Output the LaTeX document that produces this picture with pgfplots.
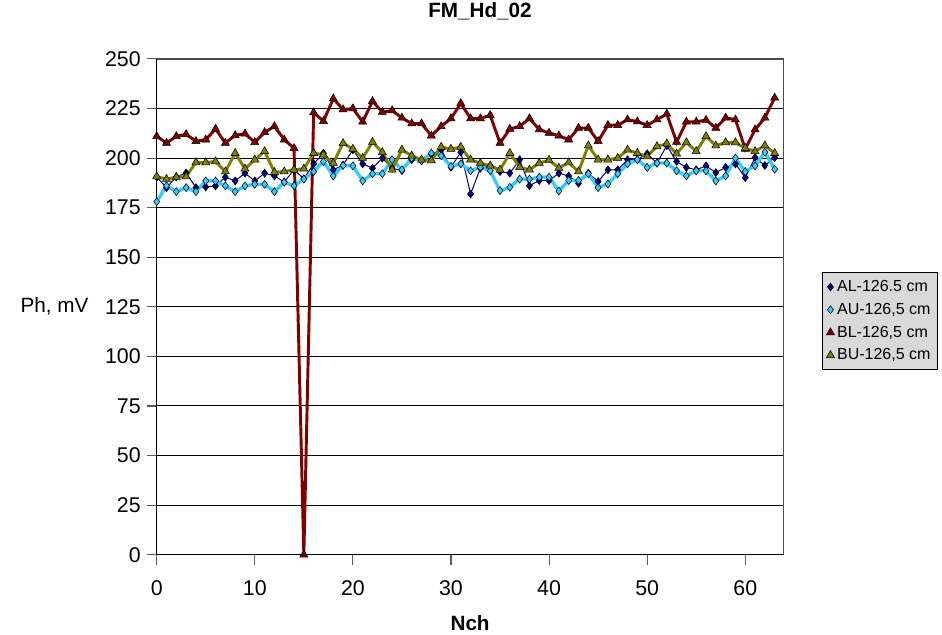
\documentclass[border=0pt]{standalone}
\usepackage{fontspec}
\setmainfont{Liberation Sans}
\usepackage{pgfplots}
\usepackage{pgfplotstable}
\pgfplotsset{compat=1.18}
\definecolor{cAL}{RGB}{0,0,128}
\definecolor{cAU}{RGB}{51,204,255}
\definecolor{cBL}{RGB}{128,0,0}
\definecolor{cBU}{RGB}{128,128,0}
\definecolor{legbg}{RGB}{217,217,217}
\pgfplotstableread{
x AL AU BL BU
0 190.4 178.0 211.0 190.7
1 185.1 186.1 207.6 189.4
2 190.5 183.1 211.0 190.4
3 192.5 185.1 212.0 190.7
4 185.1 183.1 208.5 197.8
5 185.5 188.5 209.3 197.8
6 186.0 188.5 214.7 198.3
7 190.4 186.0 207.6 193.2
8 188.5 183.1 211.5 202.5
9 192.4 186.0 212.3 194.6
10 188.5 186.8 208.0 199.2
11 192.4 186.8 213.0 203.4
12 191.0 183.1 216.0 192.9
13 188.0 187.8 209.3 193.2
14 194.1 186.0 205.0 194.1
15 189.6 189.4 0 194.6
16 197.1 193.2 223.0 202.5
17 202.5 198.3 218.6 201.7
18 194.1 191.0 230.0 197.5
19 196.5 196.3 224.5 207.5
20 204.2 196.1 225.0 204.6
21 197.1 188.5 218.3 200.0
22 194.9 192.1 228.7 208.1
23 200.0 192.1 223.2 202.9
24 194.9 199.2 224.0 194.1
25 193.7 194.1 220.3 204.2
26 199.2 200.0 217.4 201.2
27 198.6 198.8 217.4 199.2
28 202.0 202.5 211.3 198.8
29 204.2 201.2 216.0 205.6
30 195.4 195.8 220.0 204.6
31 203.0 197.1 227.6 205.6
32 181.9 193.6 220.0 199.2
33 194.9 195.4 220.0 197.5
34 196.1 193.6 221.6 196.1
35 193.2 183.6 207.6 194.1
36 192.4 185.3 214.7 202.5
37 199.2 189.4 216.0 195.4
38 186.1 189.4 220.0 194.1
39 188.7 190.4 214.4 197.5
40 188.7 190.4 212.7 199.0
41 192.4 183.4 211.3 195.0
42 191.0 188.7 209.3 197.8
43 187.3 188.7 215.2 193.2
44 192.4 192.1 215.2 206.3
45 188.2 185.1 208.5 199.2
46 194.1 187.0 216.6 199.2
47 194.1 192.1 216.6 200.0
48 199.2 197.1 219.4 204.2
49 199.2 199.2 218.4 202.5
50 202.2 195.3 216.6 200.8
51 197.5 197.5 219.4 205.9
52 206.3 197.5 222.3 207.3
53 198.3 193.6 208.1 202.2
54 195.3 191.0 218.3 207.9
55 194.1 193.6 218.3 203.4
56 196.1 193.6 219.2 211.0
57 192.7 188.5 215.2 206.3
58 195.3 191.0 220.3 207.9
59 197.1 200.0 219.4 207.9
60 190.2 193.2 204.6 205.0
61 200.3 196.1 214.4 203.4
62 196.3 203.0 220.3 206.3
63 200.3 194.4 230.4 202.5
}\datatable
\begin{document}
\begin{tikzpicture}[x=0.75pt,y=0.75pt]
\begin{axis}[
  scale only axis, width=470.1pt, height=371.8pt,
  xmin=0, xmax=63.9, ymin=0, ymax=250,
  xtick={0,10,...,60}, ytick={0,25,...,250},
  xtick pos=bottom, ytick pos=left,
  minor tick num=0,
  tick align=outside, major tick length=7.5pt,
  tick style={gray!70!black, line width=0.8pt},
  ymajorgrids, grid style={black, line width=0.75pt},
  axis line style={draw=none},
  /pgf/number format/assume math mode=true,
  ticklabel style={font=\fontsize{16}{19}\selectfont},
  yticklabel style={xshift=-1pt},
  xticklabel style={yshift=-8.5pt},
  title={\textbf{FM\_Hd\_02}},
  title style={at={(axis description cs:0.5158,1.0807)}, anchor=center, font=\fontsize{15.5}{18}\selectfont},
  xlabel={\textbf{Nch}},
  xlabel style={at={(axis description cs:0.5,-0.1378)}, anchor=center, font=\fontsize{15.5}{18}\selectfont},
  ylabel={Ph, mV},
  ylabel style={at={(axis description cs:-0.1014,0.5)}, anchor=east, rotate=-90, font=\fontsize{15.5}{18}\selectfont},
  legend style={at={(1.0614,0.5703)}, anchor=north west, fill=legbg, draw=black, line width=0.6pt,
    font=\fontsize{12}{14}\selectfont, row sep=3.2pt, inner xsep=3pt, inner ysep=4pt},
  legend cell align=left,
  legend image code/.code={\draw[#1] plot coordinates {(0.12cm,0cm)};},
  clip=false,
]
\addplot[cAL, line width=0.75pt, mark=diamond*, mark size=3pt, mark options={fill=cAL, draw=black, line width=0.4pt}] table[x=x,y=AL]{\datatable};
\addlegendentry{AL-126.5 cm}
\addplot[cAU, line width=2.5pt, mark=diamond*, mark size=3pt, mark options={fill=cAU, draw=black, line width=0.4pt}] table[x=x,y=AU]{\datatable};
\addlegendentry{AU-126,5 cm}
\addplot[cBL, line width=2.2pt, mark=triangle*, mark size=3.5pt, mark options={fill=cBL, draw=black, line width=0.4pt}] table[x=x,y=BL]{\datatable};
\addlegendentry{BL-126,5 cm}
\addplot[cBU, line width=2.2pt, mark=triangle*, mark size=3.5pt, mark options={fill=cBU, draw=black, line width=0.4pt}] table[x=x,y=BU]{\datatable};
\addlegendentry{BU-126,5 cm}
\draw[gray!60!black, line width=1.4pt] (rel axis cs:0,1) -- (rel axis cs:1,1) -- (rel axis cs:1,0);
\draw[black, line width=1pt] (rel axis cs:0,1) -- (rel axis cs:0,0) -- (rel axis cs:1,0);
\coordinate (O) at (rel axis cs:0,0);
\end{axis}
\pgfresetboundingbox
\useasboundingbox (O) ++(-156.7,-80.3) rectangle ++(942,635);
\end{tikzpicture}
\end{document}
